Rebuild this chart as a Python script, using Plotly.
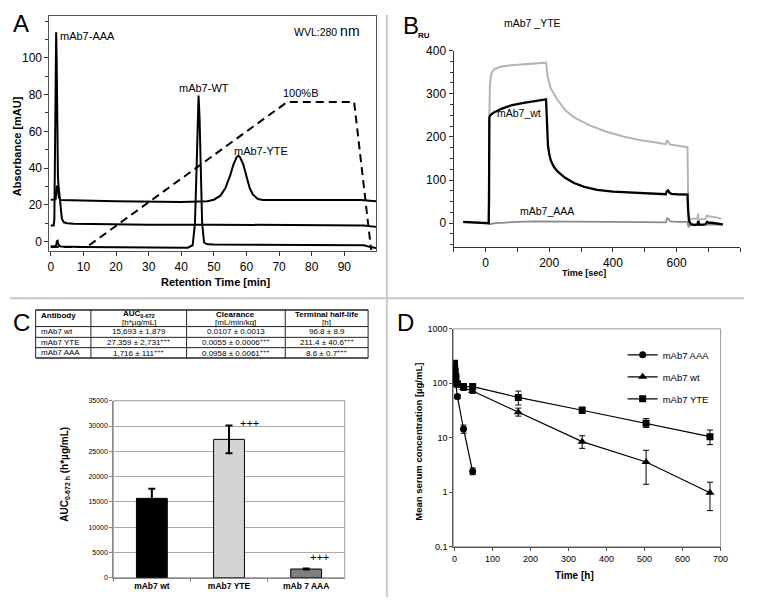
import plotly.graph_objects as go

# The page body has an 8px margin, so the figure is drawn 8px in from the top-left corner.
OFF = 8
W, H = 744, 594
FONT = "Liberation Sans, Arial, sans-serif"

def X(px):
    return (px - OFF) / W

def Y(py):
    return 1 - (py - OFF) / H

# ---------------- Panel A : chromatogram ----------------
a_aaa_t = [0, 0.9, 1.1, 1.3, 1.5, 1.65, 1.8, 2.0, 2.2, 2.4, 2.7, 3.0, 3.4, 4.0, 5.0, 7, 15, 30, 50, 70, 90, 96, 98, 99.7]
a_aaa_y = [8.8, 8.8, 12, 60, 105, 114, 100, 55, 35, 30, 24, 17, 12.5, 10.5, 10, 9.7, 9.4, 9.2, 9.2, 9.1, 9.0, 8.8, 8.3, 8.0]

a_yte_t = [0, 1.5, 1.75, 2.0, 2.2, 2.5, 3.0, 10, 20, 40, 48, 50, 52, 53.5, 55, 56, 57, 57.5, 58, 59, 60, 61, 62, 63.5, 65, 80, 95, 99.7]
a_yte_y = [22.7, 23, 29, 30.5, 28, 24, 22.6, 22.2, 21.9, 21.6, 22, 22.8, 25, 29, 36, 42, 46, 46.7, 46, 42, 35, 29, 25.5, 23.2, 22.6, 22.8, 22.6, 22.0]

a_wt_t = [0, 1.6, 1.9, 2.1, 2.4, 3, 10, 20, 35, 42, 43.5, 44.2, 44.7, 45.0, 45.3, 45.6, 45.9, 46.4, 47.0, 48, 50, 70, 90, 96, 98, 99.7]
a_wt_y = [-2.6, -2.5, 0.3, 0.5, -1.8, -2.7, -3.0, -3.2, -3.5, -3.3, -2.0, 10, 40, 68, 79.5, 68, 40, 10, -0.5, -1.5, -1.6, -1.8, -1.8, -2.0, -3.0, -3.5]

a_grad_t = [0, 11, 72.5, 93, 98.2]
a_grad_y = [-3, -3, 76, 76, -4.5]

# ---------------- Panel B : SPR sensorgram ----------------
b_yte_t = [-70, 10, 12, 14, 17, 22, 30, 50, 80, 120, 160, 190, 191, 195, 205, 226, 250, 278, 329, 380, 432, 483, 535, 566, 569, 573, 577, 581, 600, 634, 636, 638, 642, 660, 665, 667, 669, 690, 695, 698, 702, 720, 740]
b_yte_y = [2, 0, 250, 320, 342, 352, 358, 363, 366, 368, 370, 372, 368, 340, 312, 286, 262, 245, 226, 212, 201, 193, 187, 183, 191, 190, 184, 182, 180, 176, 60, -10, 10, 10, 10, 22, 8, 10, 18, 16, 16, 14, 11]

b_wt_t = [-70, 0, 10, 11, 12, 15, 25, 50, 80, 120, 160, 190, 191, 193, 196, 200, 205, 215, 226, 250, 278, 310, 350, 400, 450, 500, 566, 569, 573, 578, 584, 600, 634, 636, 639, 645, 655, 665, 668, 672, 690, 696, 700, 710, 730, 745]
b_wt_y = [3, 1, 0, 50, 245, 250, 256, 265, 273, 279, 284, 287, 270, 215, 180, 160, 145, 130, 120, 105, 93, 84, 77, 73, 71, 69, 67, 74, 76, 70, 68, 67, 66, 30, 5, -2, -4, -3, 5, -4, -3, 3, 1, 1, -2, -3]

b_aaa_t = [12, 15, 30, 60, 100, 150, 200, 300, 400, 500, 566, 570, 574, 580, 600, 634, 637, 640, 650, 700, 745]
b_aaa_y = [-3, -2, 0, 2, 3, 4, 4, 3.5, 3, 2.5, 2, 11, 10, 4, 3, 3, -8, -5, -5, -3, -4]

# ---------------- Panel C : table + AUC bars ----------------
tab_header = ["Antibody", "AUC<sub>0-672</sub>", "Clearance", "Terminal half-life"]
tab_units = ["", "[h*µg/mL]", "[mL/min/kg]", "[h]"]
tab_rows = [
    ["mAb7 wt", "15,693 ± 1,879", "0.0107 ± 0.0013", "96.8 ± 8.9"],
    ["mAb7 YTE", "27,359 ± 2,731<sup>+++</sup>", "0.0055 ± 0.0006<sup>+++</sup>", "211.4 ± 40.6<sup>+++</sup>"],
    ["mAb7 AAA", "1,716 ± 111<sup>+++</sup>", "0.0958 ± 0.0061<sup>+++</sup>", "8.6 ± 0.7<sup>+++</sup>"],
]

c_cats = ["mAb7 wt", "mAb7 YTE", "mAb 7 AAA"]
c_auc = [15693, 27359, 1716]
c_sd = [1879, 2731, 111]
c_colors = ["#000000", "#d4d4d4", "#7f7f7f"]
c_sig = ["", "+++", "+++"]

# ---------------- Panel D : serum concentration ----------------
d_aaa_t = [0.083, 1, 2, 4, 8, 24, 48]
d_aaa_c = [150, 135, 118, 98, 57, 14.5, 2.4]
d_aaa_ep = [10, 8, 8, 6, 5, 2.6, 0.4]
d_aaa_em = [10, 8, 8, 6, 5, 2.4, 0.3]

d_wt_t = [0.083, 1, 2, 4, 8, 24, 48, 168, 336, 504, 672]
d_wt_c = [200, 160, 140, 115, 92, 82, 72, 29.5, 8.5, 3.6, 0.98]
d_wt_ep = [15, 12, 10, 8, 7, 8, 7, 5.5, 2.4, 2.3, 0.55]
d_wt_em = [15, 12, 10, 8, 7, 8, 7, 4.5, 2.1, 2.2, 0.52]

d_yte_t = [0.083, 1, 2, 4, 8, 24, 48, 168, 336, 504, 672]
d_yte_c = [234, 185, 160, 130, 98, 87, 87, 55, 32, 18.5, 10.5]
d_yte_ep = [15, 12, 10, 8, 8, 12, 9, 17, 4.5, 4, 3.4]
d_yte_em = [15, 12, 10, 8, 8, 12, 9, 15, 4, 3, 3.0]

fig = go.Figure()

# Panel A traces
for t, y in [(a_yte_t, a_yte_y), (a_aaa_t, a_aaa_y), (a_wt_t, a_wt_y)]:
    fig.add_trace(go.Scatter(x=t, y=y, mode="lines", line=dict(color="black", width=2),
                             xaxis="x", yaxis="y", showlegend=False, hoverinfo="skip"))
fig.add_trace(go.Scatter(x=a_grad_t, y=a_grad_y, mode="lines",
                         line=dict(color="black", width=2, dash="8px,5px"),
                         xaxis="x", yaxis="y", showlegend=False, hoverinfo="skip"))

# Panel B traces
fig.add_trace(go.Scatter(x=b_yte_t, y=b_yte_y, mode="lines", line=dict(color="#b4b4b4", width=2),
                         xaxis="x2", yaxis="y2", showlegend=False, hoverinfo="skip"))
fig.add_trace(go.Scatter(x=b_aaa_t, y=b_aaa_y, mode="lines", line=dict(color="#8a8a8a", width=1.8),
                         xaxis="x2", yaxis="y2", showlegend=False, hoverinfo="skip"))
fig.add_trace(go.Scatter(x=b_wt_t, y=b_wt_y, mode="lines", line=dict(color="black", width=2.3),
                         xaxis="x2", yaxis="y2", showlegend=False, hoverinfo="skip"))

# Panel C bars
fig.add_trace(go.Bar(x=c_cats, y=c_auc, width=0.4, xaxis="x3", yaxis="y3",
                     marker=dict(color=c_colors, line=dict(color="black", width=1)),
                     error_y=dict(type="data", array=c_sd, color="black", thickness=2, width=3.5),
                     showlegend=False, hoverinfo="skip"))

# Panel D
d_specs = [
    ("mAb7 AAA", d_aaa_t, d_aaa_c, d_aaa_ep, d_aaa_em, "circle", 7),
    ("mAb7 wt", d_wt_t, d_wt_c, d_wt_ep, d_wt_em, "triangle-up", 8),
    ("mAb7 YTE", d_yte_t, d_yte_c, d_yte_ep, d_yte_em, "square", 7),
]
for name, t, c, ep, em, sym, sz in d_specs:
    fig.add_trace(go.Scatter(x=t, y=c, name=name, legendgroup=name, mode="lines+markers",
                             line=dict(color="black", width=1.2),
                             marker=dict(symbol=sym, size=sz, color="black"),
                             error_y=dict(type="data", array=ep, arrayminus=em, color="black",
                                          thickness=1, width=3),
                             xaxis="x4", yaxis="y4", hoverinfo="skip"))

tickfont_big = dict(family=FONT, size=12, color="black")

layout = dict(
    width=W, height=H, margin=dict(l=0, r=0, t=0, b=0),
    paper_bgcolor="white", plot_bgcolor="white",
    font=dict(family=FONT, color="black"),
    showlegend=True,
    legend=dict(x=X(629), y=Y(340), xanchor="left", yanchor="top",
                font=dict(family=FONT, size=9.5), bgcolor="rgba(0,0,0,0)",
                tracegroupgap=3, itemwidth=30),
    # Panel A
    xaxis=dict(domain=[X(48), X(379)], anchor="y", range=[-0.4, 99.7], dtick=10, tick0=0,
               ticks="outside", ticklen=4, tickcolor="#333", showline=True, mirror=True,
               linecolor="#555", linewidth=1, showgrid=False, zeroline=False, tickfont=tickfont_big),
    yaxis=dict(domain=[Y(249), Y(9)], anchor="x", range=[-5.2, 122.8], tickvals=[0, 20, 40, 60, 80, 100],
               ticks="outside", ticklen=4, tickcolor="#333", showline=True, mirror=True,
               linecolor="#555", linewidth=1, showgrid=False, zeroline=False, tickfont=tickfont_big,
               minor=dict(dtick=10, tick0=0, ticks="outside", ticklen=3, tickcolor="#333")),
    # Panel B
    xaxis2=dict(domain=[X(457.7), X(748.3)], anchor="y2", range=[-100, 800], tickvals=[0, 200, 400, 600],
                ticks="outside", ticklen=4, tickcolor="#333", showline=True, linecolor="#333",
                linewidth=1.2, showgrid=False, zeroline=False, tickfont=tickfont_big,
                minor=dict(dtick=100, tick0=0, ticks="outside", ticklen=4, tickcolor="#333")),
    yaxis2=dict(domain=[Y(245), Y(44.3)], anchor="x2", range=[-55.7, 400], tickvals=[0, 100, 200, 300, 400],
                ticks="outside", ticklen=4, tickcolor="#333", showline=True, linecolor="#333",
                linewidth=1.2, showgrid=False, zeroline=False, tickfont=tickfont_big,
                minor=dict(dtick=25, tick0=0, ticks="outside", ticklen=3, tickcolor="#333")),
    # Panel C
    xaxis3=dict(domain=[X(112.7), X(347.3)], anchor="y3", type="category",
                tickvals=c_cats, ticktext=["<b>%s</b>" % c for c in c_cats],
                ticks="outside", tickson="boundaries", ticklen=3, tickcolor="#888",
                showline=True, linecolor="#888", linewidth=1, showgrid=False,
                tickfont=dict(family=FONT, size=8.5, color="black")),
    yaxis3=dict(domain=[Y(582.3), Y(401.7)], anchor="x3", range=[0, 35000], dtick=5000, tickformat="d",
                ticks="outside", ticklen=3, tickcolor="#888", showline=True, linecolor="#888",
                linewidth=1, showgrid=True, gridcolor="#a8a8a8", gridwidth=1, zeroline=False,
                tickfont=dict(family=FONT, size=7, color="black")),
    # Panel D
    xaxis4=dict(domain=[X(457.3), X(728.3)], anchor="y4", range=[-3, 700], dtick=100, tick0=0,
                ticks="outside", ticklen=3, tickcolor="#555", showline=True, linecolor="#555",
                linewidth=1, showgrid=False, zeroline=False,
                tickfont=dict(family=FONT, size=9, color="black")),
    yaxis4=dict(domain=[Y(550.7), Y(328.3)], anchor="x4", type="log", range=[-1, 3],
                tickvals=[0.1, 1, 10, 100, 1000], ticktext=["0,1", "1", "10", "100", "1000"],
                ticks="outside", ticklen=3, tickcolor="#555", showline=True, linecolor="#555",
                linewidth=1, showgrid=False, zeroline=False,
                tickfont=dict(family=FONT, size=9, color="black")),
)
fig.update_layout(**layout)

shapes = []
# panel dividers
shapes.append(dict(type="line", xref="paper", yref="paper", x0=0, x1=1, y0=Y(297), y1=Y(297),
                   line=dict(color="#c8c8c8", width=2)))
shapes.append(dict(type="line", xref="paper", yref="paper", x0=X(390), x1=X(390), y0=0, y1=1,
                   line=dict(color="#c8c8c8", width=2)))
# grey frames for C and D plot areas
for ax in ["3", "4"]:
    shapes.append(dict(type="rect", xref="x%s domain" % ax, yref="y%s domain" % ax,
                       x0=0, x1=1, y0=0, y1=1, line=dict(color="#9a9a9a", width=1), layer="below"))

# table grid
col_edges = [34, 90, 187, 287, 371]
row_edges = [309, 326, 337, 347.5, 358]
for xe in col_edges:
    shapes.append(dict(type="line", xref="paper", yref="paper", x0=X(xe), x1=X(xe),
                       y0=Y(row_edges[0]), y1=Y(row_edges[-1]), line=dict(color="#222", width=1)))
for i, ye in enumerate(row_edges):
    shapes.append(dict(type="line", xref="paper", yref="paper", x0=X(col_edges[0]), x1=X(col_edges[-1]),
                       y0=Y(ye), y1=Y(ye), line=dict(color="#222", width=1.5 if i in (0, 4) else 1)))

ann = []
def text(x, y, s, size, bold=False, xanchor="center", yanchor="middle", angle=0, color="black"):
    ann.append(dict(x=X(x), y=Y(y), xref="paper", yref="paper", text=("<b>%s</b>" % s) if bold else s,
                    showarrow=False, xanchor=xanchor, yanchor=yanchor, textangle=angle,
                    font=dict(family=FONT, size=size, color=color)))

# table text
text(37, 315, tab_header[0], 8, bold=True, xanchor="left")
for j in range(1, 4):
    cx = (col_edges[j] + col_edges[j + 1]) / 2
    text(cx, 313.5, tab_header[j], 8, bold=True)
    text(cx, 321.5, tab_units[j], 8)
for i, row in enumerate(tab_rows):
    cy = (row_edges[i + 1] + row_edges[i + 2]) / 2
    text(37, cy, row[0], 8, xanchor="left")
    for j in range(1, 4):
        cx = (col_edges[j] + col_edges[j + 1]) / 2
        text(cx, cy, row[j], 8)

# panel letters
text(19, 17, "A", 24)
text(414, 19, "B", 24)
text(20, 322, "C", 24)
text(409, 322, "D", 24)

# Panel A labels
text(57, 29, "mAb7-AAA", 11, xanchor="left")
text(205, 82, "mAb7-WT", 11)
text(262, 147, "mAb7-YTE", 11)
text(302, 88, "100%B", 11)
text(365, 24, "WVL:280 <span style='font-size:14px'>nm</span>", 10.5, xanchor="right")
text(216.7, 281, "Retention Time [min]", 11, bold=True)
text(15, 142, "Absorbance [mAU]", 11, bold=True, angle=-90)

# Panel B labels
text(538, 16, "mAb7 _YTE", 10.5)
text(524, 108, "mAb7_wt", 10.5)
text(552, 208, "mAb7_AAA", 10.5)
text(428, 29, "RU", 8, bold=True)
text(590, 271, "Time [sec]", 9, bold=True)

# Panel C labels
text(251, 424, c_sig[1], 11)
text(322, 561, c_sig[2], 11)
text(63, 477, "AUC<sub>0-672 h</sub> (h*µg/mL)", 10, bold=True, angle=-90)

# Panel D labels
text(422, 443, "Mean serum concentration [µg/mL]", 9.5, bold=True, angle=-90)
text(580, 580, "Time [h]", 10, bold=True)

fig.update_layout(shapes=shapes, annotations=ann)
fig.write_html("out.html")
